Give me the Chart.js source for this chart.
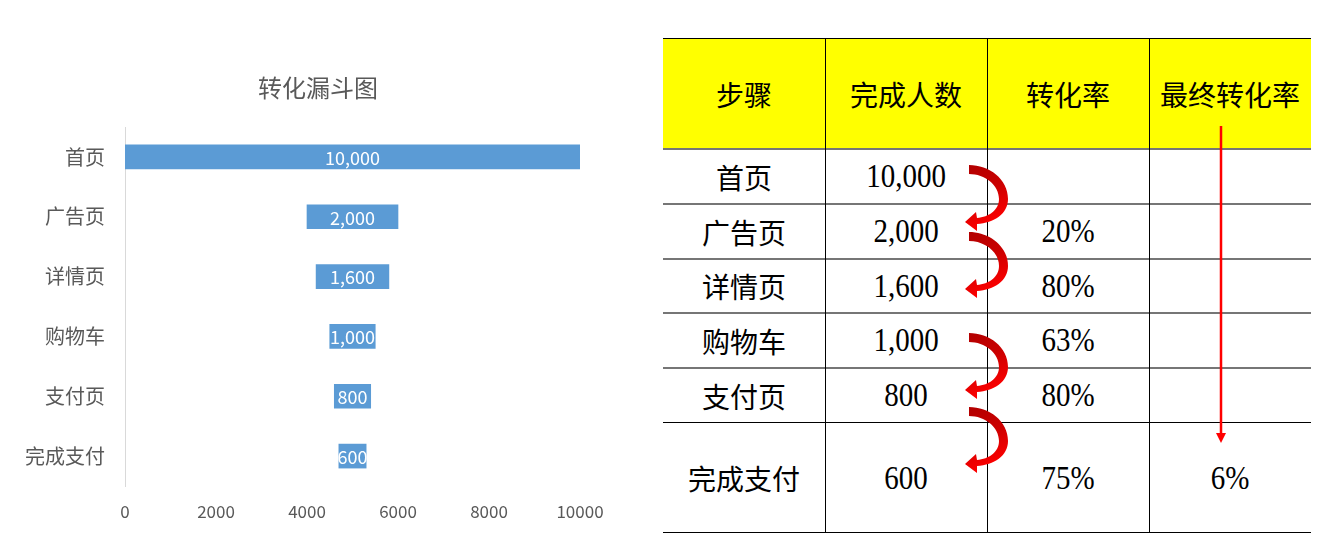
<!DOCTYPE html>
<html>
<head>
<meta charset="utf-8">
<script src="https://cdn.jsdelivr.net/npm/chart.js@4"></script>
<style>
    body { margin: 0; background: #fff; width: 1330px; height: 554px; position: relative; overflow: hidden; font-family: "Noto Sans CJK SC", sans-serif; }
    #chartBox { position: absolute; left: 0; top: 0; width: 636px; height: 554px; }
    .cell { position: absolute; display: flex; align-items: center; justify-content: center; color: #000; font-size: 28px; }
    .num { font-family: "Liberation Serif", serif; font-size: 29px; }
    .num span { display: inline-block; transform: scaleY(1.15); }
    .line { position: absolute; }
    #arrows { position: absolute; left: 0; top: 0; }
</style>
</head>
<body>
<div id="chartBox"><canvas id="funnel"></canvas></div>
<div id="table"></div>
<svg id="arrows" width="1330" height="554"></svg>
<script>
// Data
const steps = ['首页', '广告页', '详情页', '购物车', '支付页', '完成支付'];
const users = [10000, 2000, 1600, 1000, 800, 600];
const convRate = ['', '20%', '80%', '63%', '80%', '75%'];
const finalRate = ['', '', '', '', '', '6%'];
const headers = ['步骤', '完成人数', '转化率', '最终转化率'];
const xTicks = [0, 2000, 4000, 6000, 8000, 10000];
const chartTitle = '转化漏斗图';

const center = Math.max(...users) / 2;
const fmt = v => v.toLocaleString('en-US');
const grey = '#595959';
const cjk = '"Noto Sans CJK SC", sans-serif';

// Popisky uprostřed pruhů + titulek nad celým grafem
const barLabels = {
    id: 'barLabels',
    afterDatasetsDraw(chart) {
        const ctx = chart.ctx;
        ctx.save();
        ctx.fillStyle = '#fff';
        ctx.font = '18px ' + cjk;
        ctx.textAlign = 'center';
        ctx.textBaseline = 'middle';
        chart.getDatasetMeta(0).data.forEach((bar, i) => {
            ctx.fillText(fmt(users[i]), (bar.x + bar.base) / 2, bar.y + 1);
        });
        ctx.fillStyle = grey;
        ctx.font = '24px ' + cjk;
        ctx.fillText(chartTitle, chart.width / 2, 88);
        ctx.restore();
    }
};

new Chart(document.getElementById('funnel'), {
    type: 'bar',
    data: {
        labels: steps,
        datasets: [{
            data: users.map(v => [center - v / 2, center + v / 2]),
            backgroundColor: '#5B9BD5',
            barThickness: 24
        }]
    },
    options: {
        indexAxis: 'y',
        responsive: true,
        maintainAspectRatio: false,
        animation: false,
        layout: { padding: { left: 10, right: 56, top: 127, bottom: 0 } },
        plugins: {
            legend: { display: false },
            tooltip: { enabled: false },
            title: { display: false }
        },
        scales: {
            x: {
                min: 0,
                max: 10000,
                afterBuildTicks: s => { s.ticks = xTicks.map(v => ({ value: v })); },
                afterFit: s => { s.height = 68; },
                ticks: { color: grey, font: { size: 17, family: cjk }, padding: 15, callback: v => String(v) },
                grid: { display: false, drawTicks: false },
                border: { display: false }
            },
            y: {
                afterFit: s => { s.width = 115; },
                ticks: { color: grey, font: { size: 20, family: cjk }, padding: 20 },
                grid: { display: false, drawTicks: false },
                border: { display: true, color: '#D9D9D9', width: 1 }
            }
        }
    },
    plugins: [barLabels]
});

// Tabulka vpravo
const rowEdges = [39, 149, 204, 259, 313, 368, 423, 533];
const colEdges = [663, 825, 987, 1149, 1311];
const table = document.getElementById('table');

function addCell(r, c, text, isNum, bg) {
    const d = document.createElement('div');
    d.className = 'cell' + (isNum ? ' num' : '');
    d.style.left = colEdges[c] + 'px';
    d.style.top = rowEdges[r] + 'px';
    d.style.width = (colEdges[c + 1] - colEdges[c]) + 'px';
    d.style.height = (rowEdges[r + 1] - rowEdges[r]) + 'px';
    if (bg) d.style.background = bg;
    const s = document.createElement('span');
    s.textContent = text;
    d.appendChild(s);
    table.appendChild(d);
}

headers.forEach((h, c) => addCell(0, c, h, false, '#FFFF00'));
steps.forEach((st, i) => {
    addCell(i + 1, 0, st, false);
    addCell(i + 1, 1, fmt(users[i]), true);
    addCell(i + 1, 2, convRate[i], true);
    addCell(i + 1, 3, finalRate[i], true);
});

function addLine(x, y, w, h, color) {
    const l = document.createElement('div');
    l.className = 'line';
    Object.assign(l.style, { left: x + 'px', top: y + 'px', width: w + 'px', height: h + 'px', background: color });
    table.appendChild(l);
}
rowEdges.forEach((y, i) => {
    const dark = i === 0 || i >= rowEdges.length - 2;
    addLine(colEdges[0], y - 1, colEdges[4] - colEdges[0], dark ? 1.2 : 1.5, dark ? '#000' : '#767676');
});
colEdges.slice(1, 4).forEach(x => addLine(x, rowEdges[0], 1.2, rowEdges[7] - rowEdges[0], '#000'));

// Šipky
const svg = document.getElementById('arrows');
let html = '<defs><linearGradient id="rg" x1="0" y1="0" x2="0.3" y2="1">' +
    '<stop offset="0" stop-color="#B00000"/><stop offset="0.5" stop-color="#CC0000"/>' +
    '<stop offset="1" stop-color="#FF0000"/></linearGradient></defs>';
const curvePath = 'M0,0 C20,0 39,14 39,34 C39,49 25,58 8,59 L8,66 L-4,57 L7,47 L8,53 ' +
    'C20,52 30,45 30,34 C30,20 16,9 0,9 Z';
[165, 232, 333, 407].forEach(y0 => {
    html += '<path d="' + curvePath + '" fill="url(#rg)" transform="translate(969,' + y0 + ')"/>';
});
html += '<line x1="1221" y1="126" x2="1221" y2="434" stroke="#FF0000" stroke-width="2.5"/>';
html += '<polygon points="1216,433 1226,433 1221,443" fill="#FF0000"/>';
svg.innerHTML = html;
</script>
</body>
</html>
